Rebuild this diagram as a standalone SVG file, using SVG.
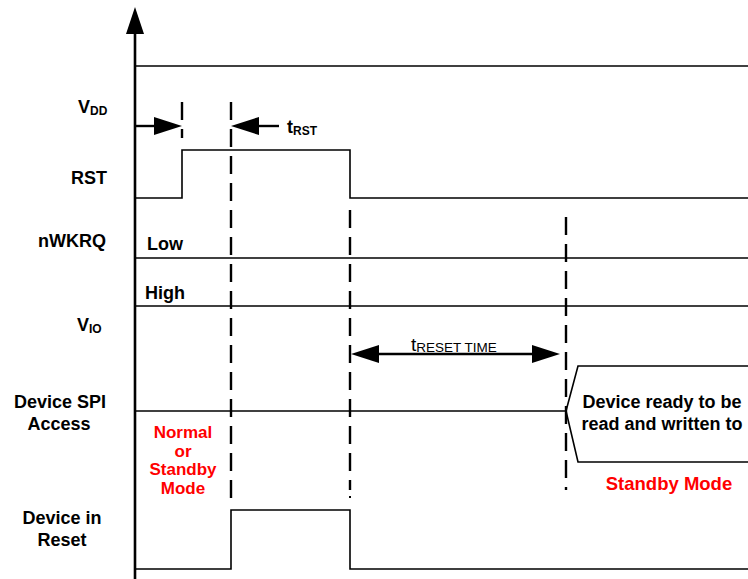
<svg xmlns="http://www.w3.org/2000/svg" width="748" height="579" viewBox="0 0 748 579">
<style>
.sig{fill:none;stroke:#000;stroke-width:1.6}
.dash{fill:none;stroke:#000;stroke-width:2.4;stroke-dasharray:18 9}
.lbl{font-family:"Liberation Sans",Arial,sans-serif;font-weight:bold;font-size:18px;fill:#000}
.red{font-family:"Liberation Sans",Arial,sans-serif;font-weight:bold;font-size:17px;fill:#f00}
.sub{font-size:12px}
</style>
<rect width="748" height="579" fill="#fff"/>
<g id="axis">
<line x1="135" y1="30" x2="135" y2="579" stroke="#000" stroke-width="2.6"/>
<polygon points="135,7 126,34 144,34" fill="#000"/>
</g>
<g id="labels">
<text class="lbl" x="78" y="113">V<tspan class="sub" dy="2">DD</tspan></text>
<text class="lbl" x="107" y="184" text-anchor="end">RST</text>
<text class="lbl" x="106" y="247" text-anchor="end">nWKRQ</text>
<text class="lbl" x="77" y="331">V<tspan class="sub" dy="2">IO</tspan></text>
<text class="lbl" x="60" y="408" text-anchor="middle">Device SPI</text>
<text class="lbl" x="59" y="430" text-anchor="middle">Access</text>
<text class="lbl" x="62" y="524" text-anchor="middle">Device in</text>
<text class="lbl" x="62" y="546" text-anchor="middle">Reset</text>
</g>
<g id="signals">
<line class="sig" x1="135" y1="66" x2="748" y2="66"/>
<polyline class="sig" points="135,198 182,198 182,150 350,150 350,198 748,198"/>
<line class="sig" x1="135" y1="258" x2="748" y2="258"/>
<line class="sig" x1="135" y1="306" x2="748" y2="306"/>
<line class="sig" x1="135" y1="411" x2="566" y2="411"/>
<polyline class="sig" points="748,366 578,366 566,411 578,462 748,462"/>
<polyline class="sig" points="135,569 231,569 231,510 350,510 350,569 748,569"/>
</g>
<g id="state-labels">
<text class="lbl" x="147" y="250">Low</text>
<text class="lbl" x="145" y="299">High</text>
<text class="lbl" x="662" y="408" text-anchor="middle">Device ready to be</text>
<text class="lbl" x="662" y="430" text-anchor="middle">read and written to</text>
<text class="red" x="669" y="490" text-anchor="middle" style="font-size:18.5px">Standby Mode</text>
<text class="red" x="183" y="438" text-anchor="middle">Normal</text>
<text class="red" x="183" y="456.5" text-anchor="middle">or</text>
<text class="red" x="183" y="475" text-anchor="middle">Standby</text>
<text class="red" x="183" y="493.5" text-anchor="middle">Mode</text>
</g>
<g id="markers">
<line class="dash" x1="182" y1="102" x2="182" y2="138"/>
<line class="dash" x1="231" y1="102" x2="231" y2="498"/>
<line class="dash" x1="350" y1="210" x2="350" y2="490"/>
<rect x="349" y="496" width="2" height="2" fill="#000"/>
<line class="dash" x1="566" y1="217" x2="566" y2="490"/>
</g>
<g id="connectors">
<line x1="135" y1="126" x2="156" y2="126" stroke="#000" stroke-width="2.4"/>
<polygon points="182,126 154,117 154,135" fill="#000"/>
<line x1="256" y1="126" x2="279" y2="126" stroke="#000" stroke-width="2.4"/>
<polygon points="231,126 259,117 259,135" fill="#000"/>
<text class="lbl" x="287" y="133">t<tspan class="sub" dy="2">RST</tspan></text>
<line x1="376" y1="354" x2="535" y2="354" stroke="#000" stroke-width="2.4"/>
<polygon points="351,354 379,345 379,363" fill="#000"/>
<polygon points="560,354 532,345 532,363" fill="#000"/>
<text x="411" y="351" font-family="Liberation Sans,Arial,sans-serif" font-size="19" fill="#000">t<tspan font-size="13.5" dy="1">RESET TIME</tspan></text>
</g>
</svg>
